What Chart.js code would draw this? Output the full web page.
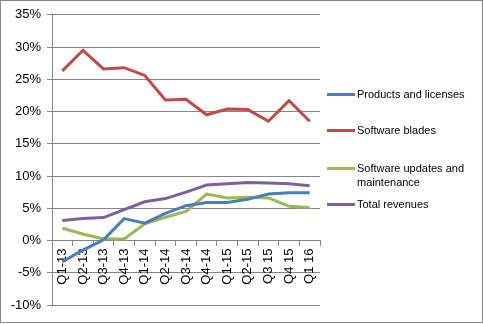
<!DOCTYPE html>
<html lang="en">
<head>
    <meta charset="UTF-8">
    <title>Revenue growth</title>
    <script src="https://cdn.jsdelivr.net/npm/chart.js"></script>
    <style>
        body { margin: 0; background: #fff; font-family: "Liberation Sans", Arial, sans-serif; }
        #box { position: relative; width: 481px; height: 321px; border: 1px solid #878787; }
        #chart { position: absolute; left: 0; top: 0; }
        .leg { position: absolute; left: 326px; font-size: 11px; color: #000; line-height: 14px; }
        .leg span.swatch { position: absolute; left: 0; top: 6px; width: 28px; height: 3px; }
        .leg div.txt { margin-left: 30px; width: 125px; }
    </style>
</head>
<body>
    <div id="box">
        <canvas id="chart" width="481" height="321"></canvas>
        <div id="legend"></div>
    </div>

    <script>
        // Quarter labels
        const quarters = ['Q1-13', 'Q2-13', 'Q3-13', 'Q4-13', 'Q1-14', 'Q2-14', 'Q3-14',
                          'Q4-14', 'Q1-15', 'Q2-15', 'Q3 15', 'Q4 15', 'Q1 16'];

        // Growth rates in %
        const productsLicenses = [-3.3, -1.5, 0.1, 3.4, 2.7, 4.2, 5.4, 5.9, 5.9, 6.4, 7.2, 7.4, 7.4];
        const softwareBlades = [26.3, 29.5, 26.6, 26.8, 25.6, 21.8, 21.9, 19.5, 20.4, 20.3, 18.5, 21.7, 18.5];
        const updatesMaintenance = [1.9, 1.0, 0.25, 0.25, 2.6, 3.6, 4.5, 7.2, 6.6, 6.7, 6.6, 5.3, 5.1];
        const totalRevenues = [3.1, 3.4, 3.55, 4.8, 6.0, 6.5, 7.5, 8.6, 8.8, 9.0, 8.9, 8.8, 8.5];

        const seriesNames = ['Products and licenses', 'Software blades', 'Software updates and maintenance', 'Total revenues'];
        const seriesColors = ['#4A7EBB', '#BE4B48', '#98B954', '#7D60A0'];
        const seriesData = [productsLicenses, softwareBlades, updatesMaintenance, totalRevenues];

        const datasets = seriesNames.map((name, i) => ({
            label: name,
            data: seriesData[i],
            borderColor: seriesColors[i],
            backgroundColor: seriesColors[i],
            borderWidth: 3,
            pointRadius: 0,
            tension: 0,
            fill: false
        }));

        new Chart(document.getElementById('chart').getContext('2d'), {
            type: 'line',
            data: { labels: quarters, datasets: datasets },
            options: {
                responsive: false,
                animation: false,
                layout: { padding: { left: 0, top: 13, right: 162, bottom: 17 } },
                plugins: { legend: { display: false }, tooltip: { enabled: false } },
                scales: {
                    x: {
                        position: { y: 0 },
                        offset: true,
                        grid: {
                            offset: true,
                            drawOnChartArea: false,
                            drawTicks: true,
                            tickLength: 5,
                            color: '#868686'
                        },
                        border: { color: '#868686', width: 1 },
                        ticks: {
                            autoSkip: false,
                            maxRotation: 90,
                            minRotation: 90,
                            padding: 3,
                            color: '#000',
                            font: { family: '"Liberation Sans", Arial, sans-serif', size: 13 }
                        }
                    },
                    y: {
                        min: -10,
                        max: 35,
                        afterFit: scale => { scale.width = 51; },
                        grid: { color: '#868686', tickLength: 5 },
                        border: { color: '#868686', width: 1 },
                        ticks: {
                            stepSize: 5,
                            padding: 6,
                            color: '#000',
                            font: { family: '"Liberation Sans", Arial, sans-serif', size: 13 },
                            callback: v => v + '%'
                        }
                    }
                }
            }
        });

        // Legend on the right, built from the dataset names
        const legendTops = [86, 122, 160, 196];
        const legend = document.getElementById('legend');
        seriesNames.forEach((name, i) => {
            const item = document.createElement('div');
            item.className = 'leg';
            item.style.top = legendTops[i] + 'px';
            item.innerHTML = '<span class="swatch" style="background:' + seriesColors[i] + '"></span><div class="txt">' + name + '</div>';
            legend.appendChild(item);
        });
    </script>
</body>
</html>
